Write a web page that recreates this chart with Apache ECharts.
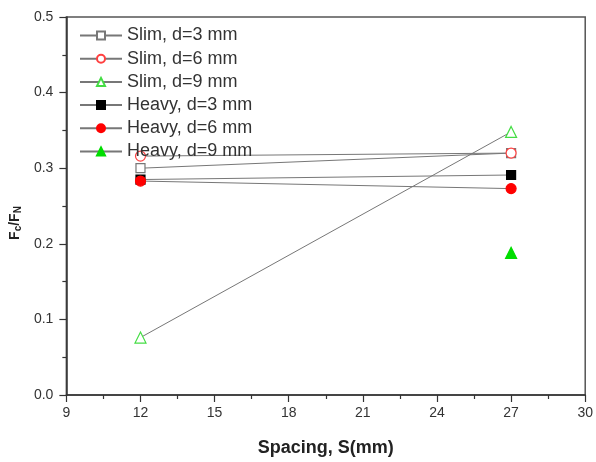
<!DOCTYPE html>
<html>
<head>
<meta charset="utf-8">
<script src="https://cdn.jsdelivr.net/npm/echarts@6/dist/echarts.min.js"></script>
<style>
html, body { margin: 0; padding: 0; background: #fff; }
#chart { width: 596px; height: 462px; }
</style>
</head>
<body>
<div id="chart"></div>
<script>
// spacing values (x)
var spacing = [12, 27];
// Fc/FN readings
var slim3 = [0.300, 0.320];
var slim6 = [0.316, 0.320];
var slim9 = [0.076, 0.348];
var heavy3 = [0.285, 0.291];
var heavy6 = [0.283, 0.273];
var heavy9 = [null, 0.188];
var seriesNames = ['Slim, d=3 mm', 'Slim, d=6 mm', 'Slim, d=9 mm', 'Heavy, d=3 mm', 'Heavy, d=6 mm', 'Heavy, d=9 mm'];

function pts(vals) {
  var out = [];
  for (var i = 0; i < spacing.length; i++) {
    if (vals[i] !== null) out.push([spacing[i], vals[i]]);
  }
  return out;
}

var font = '"Liberation Sans", Arial, sans-serif';
var lineColor = '#777';

function mk(name, vals, symbol, size, fill, stroke) {
  return {
    name: name,
    type: 'line',
    data: pts(vals),
    symbol: symbol,
    symbolSize: size,
    showSymbol: true,
    lineStyle: { color: lineColor, width: 1 },
    itemStyle: { color: fill, borderColor: stroke, borderWidth: 1.2 },
    emphasis: { disabled: true },
    animation: false
  };
}

var chart = echarts.init(document.getElementById('chart'));
var option = {
  backgroundColor: '#fff',
  animation: false,
  grid: {
    left: 66, right: 6, top: 17, bottom: 59.5,
    show: true, borderColor: '#555', borderWidth: 1.5
  },
  legend: {
    orient: 'vertical',
    left: 74,
    top: 21.5,
    itemWidth: 42,
    itemHeight: 10,
    itemGap: 5.2,
    data: seriesNames,
    textStyle: { fontFamily: font, fontSize: 18, lineHeight: 18, color: '#333' }
  },
  xAxis: {
    type: 'value',
    min: 9, max: 30, interval: 3,
    name: 'Spacing, S(mm)',
    nameLocation: 'middle',
    nameGap: 44,
    nameTextStyle: { fontFamily: font, fontSize: 18, fontWeight: 'bold', color: '#222' },
    axisLine: { lineStyle: { color: '#333', width: 1.5 } },
    axisTick: { show: true, length: 7, lineStyle: { color: '#333', width: 1.2 } },
    minorTick: { show: true, splitNumber: 2, length: 4, lineStyle: { color: '#333', width: 1.2 } },
    axisLabel: { fontFamily: font, fontSize: 14, color: '#333', margin: 11 },
    splitLine: { show: false }
  },
  yAxis: {
    type: 'value',
    min: 0, max: 0.5, interval: 0.1,
    name: '{a|F}{b|c}{a|/F}{b|N}',
    nameLocation: 'middle',
    nameGap: 42,
    nameTextStyle: {
      padding: [0, 34, 0, 0],
      rich: {
        a: { fontFamily: font, fontSize: 14, fontWeight: 'bold', color: '#222' },
        b: { fontFamily: font, fontSize: 10, fontWeight: 'bold', color: '#222', verticalAlign: 'bottom', padding: [6, 0, 0, 0] }
      }
    },
    axisLine: { show: true, lineStyle: { color: '#333', width: 1.5 } },
    axisTick: { show: true, length: 7, lineStyle: { color: '#333', width: 1.2 } },
    minorTick: { show: true, splitNumber: 2, length: 4, lineStyle: { color: '#333', width: 1.2 } },
    axisLabel: {
      fontFamily: font, fontSize: 14, color: '#333', margin: 13,
      formatter: function (v) { return v.toFixed(1); }
    },
    splitLine: { show: false }
  },
  series: [
    mk(seriesNames[0], slim3, 'rect', 9, '#fff', '#777'),
    mk(seriesNames[1], slim6, 'circle', 10, '#fff', '#ff4040'),
    mk(seriesNames[2], slim9, 'triangle', 11, '#fff', '#44dd44'),
    mk(seriesNames[3], heavy3, 'rect', 9, '#000', '#000'),
    mk(seriesNames[4], heavy6, 'circle', 10, '#ff0000', '#ff0000'),
    mk(seriesNames[5], heavy9, 'triangle', 11, '#00dd00', '#00dd00')
  ]
};
chart.setOption(option);
</script>
</body>
</html>
